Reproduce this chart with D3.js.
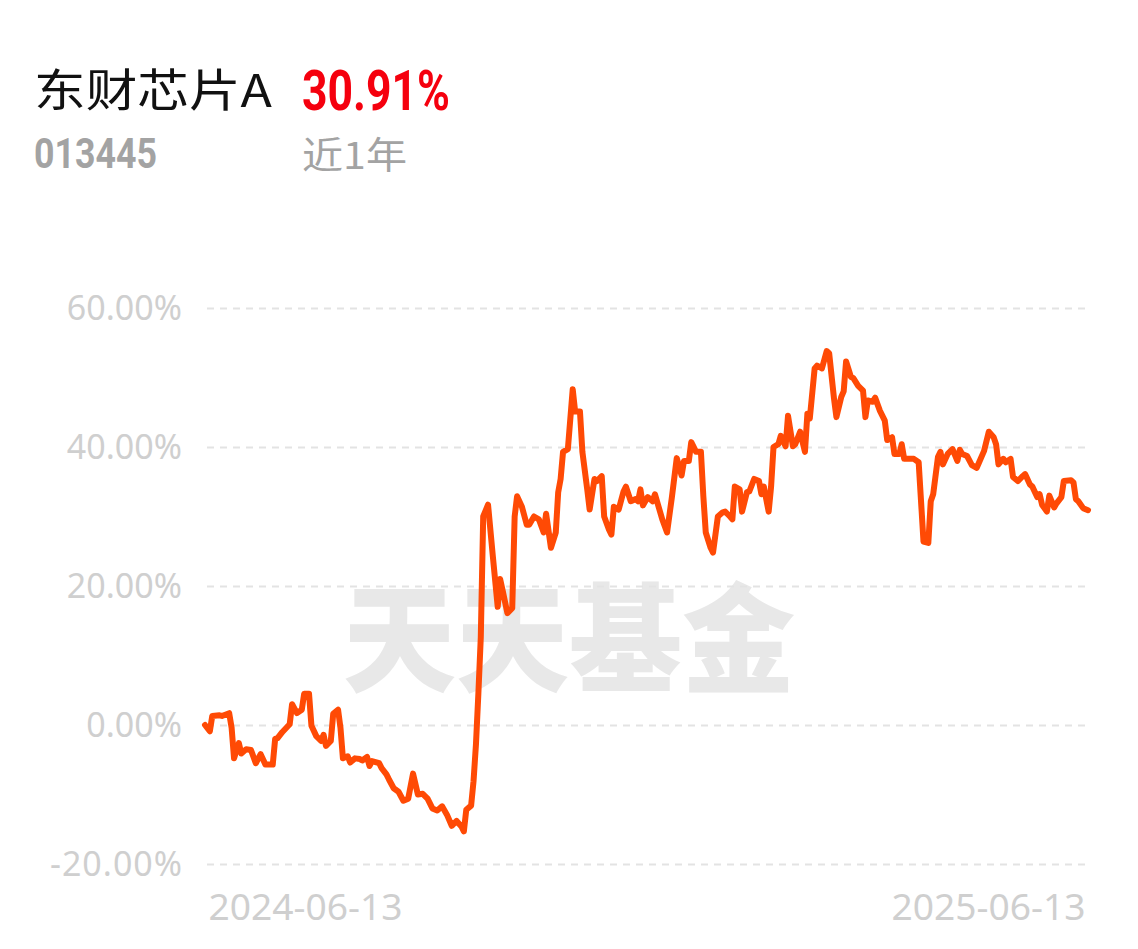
<!DOCTYPE html>
<html>
<head>
<meta charset="utf-8">
<script src="https://cdn.jsdelivr.net/npm/d3@7"></script>
<style>
  html, body { margin: 0; padding: 0; background: #fff; }
  svg { display: block; }
</style>
</head>
<body>
<svg id="chart" width="1138" height="949"></svg>
<script>
// ---- data ----
const fundName = "东财芯片A";
const fundCode = "013445";
const periodReturn = "30.91%";
const periodLabel = "近1年";
const startDate = "2024-06-13";
const endDate = "2025-06-13";
const xTickLabels = ["2024-06-13", "2025-06-13"];
const yTicks = [60, 40, 20, 0, -20];

// day offsets from start date
const days = [0,2,3,6,7,10,11,12,14,15,17,19,21,23,25,28,29,30,32,35,36,38,40,41,43,44,46,48,49,50,52,53,55,56,57,59,60,62,64,65,67,68,69,72,73,75,76,78,80,82,84,86,88,90,92,94,96,98,100,102,104,106,107,108,110,111,112,113,114,115,117,119,121,122,123,125,127,128,129,131,133,134,136,138,140,141,143,145,146,147,148,150,152,153,155,156,158,159,161,162,164,165,167,168,169,171,173,174,176,178,179,180,181,183,185,186,189,191,193,195,197,198,200,201,203,205,206,207,209,210,212,214,215,217,218,219,221,222,224,225,227,229,230,231,233,234,235,237,238,240,241,243,244,246,248,249,250,252,253,255,257,258,260,261,263,264,265,267,268,270,272,273,274,276,277,279,281,282,284,285,287,288,289,291,293,295,297,299,300,301,303,304,305,307,309,311,312,313,315,317,319,320,322,324,326,327,328,330,331,333,334,336,338,339,341,342,344,345,346,348,349,351,352,354,355,358,359,360,361,363,365];
// cumulative return, %
const returns = [0.0,-0.9,1.3,1.4,1.3,1.7,-0.4,-4.8,-2.6,-4.1,-3.5,-3.6,-5.5,-4.2,-5.7,-5.7,-2.0,-1.9,-1.0,0.1,3.0,1.7,2.2,4.5,4.5,-0.1,-1.6,-2.3,-1.4,-3.0,-2.3,1.6,2.2,-0.4,-4.8,-4.5,-5.4,-4.8,-4.9,-5.1,-4.6,-5.9,-5.2,-5.5,-6.2,-7.1,-7.8,-9.1,-9.6,-10.9,-10.6,-7.0,-10.0,-9.9,-10.6,-12.0,-12.3,-11.7,-12.9,-14.5,-13.8,-14.6,-15.3,-12.2,-11.6,-8.1,-2.8,4.5,12.6,30.0,31.7,24.2,17.0,21.0,19.4,16.1,16.8,30.0,32.9,31.4,28.8,28.8,30.0,29.6,27.7,30.4,25.5,27.7,33.5,35.4,39.3,39.7,48.3,45.1,45.1,39.3,33.9,31.0,35.4,35.1,35.8,30.0,28.1,27.4,31.4,31.0,33.6,34.3,32.2,32.5,32.2,33.9,31.6,32.8,32.2,33.2,29.6,27.7,32.8,38.4,35.9,38.0,38.0,40.7,39.3,39.3,32.9,27.7,25.5,24.8,30.0,30.6,30.7,30.0,29.6,34.3,33.9,30.7,33.5,33.6,35.4,35.1,33.2,34.3,30.7,34.3,40.0,40.4,41.6,40.1,44.5,40.1,40.4,42.2,39.3,44.8,44.1,51.3,51.7,51.3,53.8,53.5,47.0,44.3,47.2,48.0,52.3,50.1,49.9,48.8,48.1,44.3,46.7,46.5,47.1,45.2,43.8,41.0,41.4,39.0,39.0,40.4,38.3,38.3,38.3,37.8,26.4,26.2,32.2,33.2,38.6,39.3,37.5,39.0,39.7,38.0,39.6,39.0,38.7,37.4,37.0,37.8,39.4,42.2,41.4,40.4,37.5,38.3,37.8,38.3,35.7,35.1,35.8,36.1,34.6,34.3,32.8,33.2,31.7,30.7,33.0,31.3,31.9,32.8,35.1,35.2,34.9,32.5,32.2,31.2,30.91];

// ---- drawing ----
const svg = d3.select("#chart");
const parse = d3.timeParse("%Y-%m-%d");
const t0 = parse(startDate), t1 = parse(endDate);
const points = days.map((d, i) => ({ date: d3.timeDay.offset(t0, d), v: returns[i] }));

const x = d3.scaleTime().domain([t0, t1]).range([205, 1088]);
const y = d3.scaleLinear().domain([-20, 60]).range([864, 308]);

// header
svg.append("text").attr("x", 34).attr("y", 107)
  .attr("font-family", "'Noto Sans CJK SC', 'Noto Sans', sans-serif")
  .attr("font-size", 45).attr("fill", "#111")
  .attr("textLength", 238).attr("lengthAdjust", "spacingAndGlyphs")
  .text(fundName);
svg.append("text").attr("x", 302).attr("y", 110)
  .attr("font-family", "Roboto, 'DejaVu Sans', sans-serif")
  .attr("font-size", 55).attr("font-weight", "bold").attr("fill", "#f5000e")
  .attr("textLength", 148).attr("lengthAdjust", "spacingAndGlyphs")
  .text(periodReturn);
svg.append("text").attr("x", 34).attr("y", 168)
  .attr("font-family", "Roboto, 'DejaVu Sans', sans-serif")
  .attr("font-size", 42).attr("font-weight", "bold").attr("fill", "#a3a3a3")
  .attr("textLength", 123).attr("lengthAdjust", "spacingAndGlyphs")
  .text(fundCode);
svg.append("text").attr("x", 302).attr("y", 169)
  .attr("font-family", "'Noto Sans CJK SC', 'Noto Sans', sans-serif")
  .attr("font-size", 37).attr("fill", "#a3a3a3")
  .attr("textLength", 105).attr("lengthAdjust", "spacingAndGlyphs")
  .text(periodLabel);

// watermark
svg.append("text").attr("x", 343).attr("y", 683)
  .attr("font-family", "'Noto Sans CJK SC', sans-serif")
  .attr("font-size", 118).attr("font-weight", 900).attr("fill", "#e8e8e8")
  .attr("textLength", 452).attr("lengthAdjust", "spacingAndGlyphs")
  .text("天天基金");

// y grid + labels
const yAxis = d3.axisLeft(y).tickValues(yTicks)
  .tickSize(-(1087 - 207)).tickPadding(25)
  .tickFormat(d => d3.format(".2f")(d) + "%");
const gy = svg.append("g").attr("transform", "translate(207,0)").call(yAxis);
gy.select(".domain").remove();
gy.selectAll(".tick line").attr("stroke", "#e3e3e3").attr("stroke-width", 2)
  .attr("stroke-dasharray", "7,6");
gy.selectAll(".tick text").attr("fill", "#cfcfcf")
  .attr("font-family", "'Noto Sans', 'Open Sans', sans-serif")
  .attr("font-size", 34).attr("dy", "0.35em")
  .text(d => (d < 0 ? "-" : "") + d3.format(".2f")(Math.abs(d)) + "%");
gy.selectAll(".tick text").filter(d => d < 0)
  .attr("textLength", 132).attr("lengthAdjust", "spacing");

// x labels
const xAxis = d3.axisBottom(x).tickValues([t0, t1]).tickSize(0).tickPadding(0)
  .tickFormat((d, i) => xTickLabels[i]);
const gx = svg.append("g").attr("transform", "translate(0,920)").call(xAxis);
gx.select(".domain").remove();
gx.selectAll(".tick text").attr("fill", "#cfcfcf")
  .attr("font-family", "'Noto Sans', 'Open Sans', sans-serif")
  .attr("font-size", 36).attr("dy", "0")
  .attr("text-anchor", (d, i) => i === 0 ? "start" : "end")
  .attr("dx", (d, i) => i === 0 ? 3 : -3)
  .attr("textLength", 194).attr("lengthAdjust", "spacingAndGlyphs");

// line
const line = d3.line().x(d => x(d.date)).y(d => y(d.v)).curve(d3.curveLinear);
svg.append("path").datum(points)
  .attr("d", line).attr("fill", "none")
  .attr("stroke", "#ff4a05").attr("stroke-width", 6)
  .attr("stroke-linejoin", "round").attr("stroke-linecap", "round");
</script>
</body>
</html>
